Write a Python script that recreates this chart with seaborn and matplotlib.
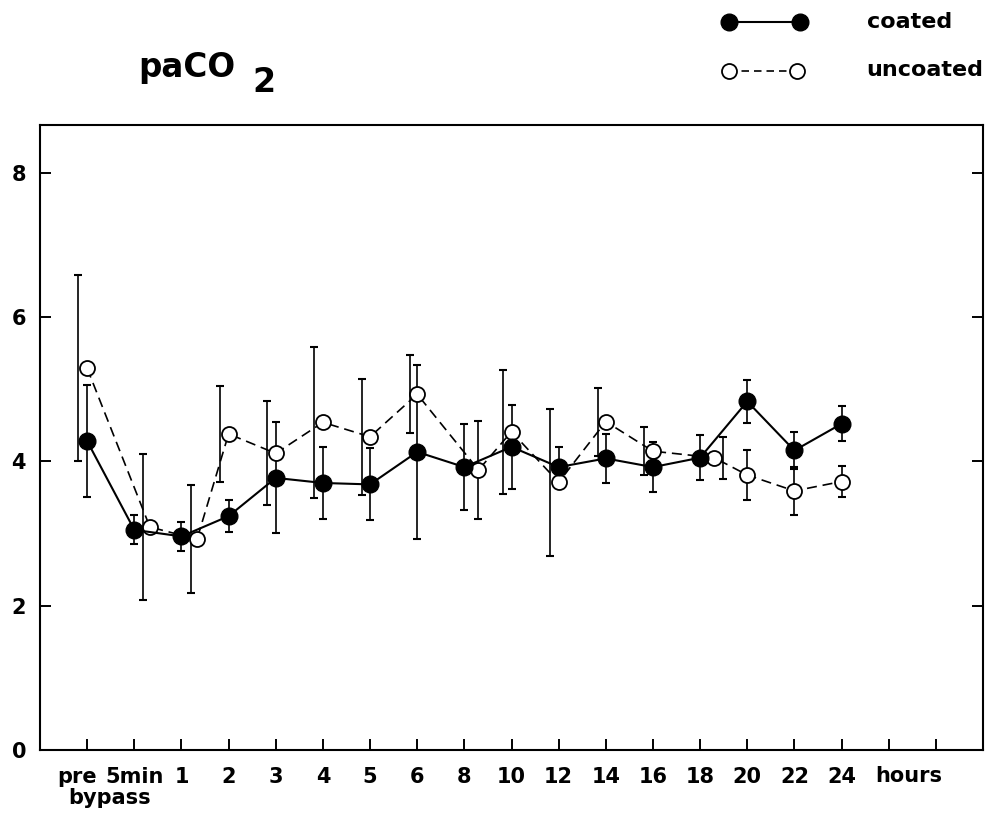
import numpy as np
import pandas as pd
import matplotlib
matplotlib.use("Agg")
import matplotlib.pyplot as plt
import matplotlib.transforms as mtransforms
import seaborn as sns

# ---- data: arterial pCO2 (kPa), mean and SD per sampling time ----
time_labels = ["pre", "5min", "1", "2", "3", "4", "5", "6", "8", "10",
               "12", "14", "16", "18", "20", "22", "24"]
coated_mean = [4.28, 3.05, 2.96, 3.24, 3.77, 3.70, 3.68, 4.13, 3.92, 4.20,
               3.92, 4.04, 3.92, 4.05, 4.83, 4.15, 4.52]
coated_sd = [0.78, 0.20, 0.20, 0.22, 0.77, 0.50, 0.50, 1.20, 0.60, 0.58,
             0.28, 0.34, 0.35, 0.31, 0.30, 0.25, 0.24]
uncoated_mean = [5.29, 3.09, 2.92, 4.38, 4.11, 4.54, 4.34, 4.93, 3.88, 4.41,
                 3.71, 4.55, 4.14, 4.05, 3.81, 3.59, 3.72]
uncoated_sd = [1.29, 1.01, 0.75, 0.67, 0.72, 1.05, 0.80, 0.54, 0.68, 0.86,
               1.02, 0.47, 0.33, 0.29, 0.35, 0.33, 0.22]
y_ticks = [0, 2, 4, 6, 8]

# horizontal nudges (category units) that keep overlapping symbols/bars apart
uncoated_nudge = [0, 0.33, 0.33, 0, 0, 0, 0, 0, 0.30, 0, 0, 0, 0, 0.30, 0, 0, 0]
uncoated_bar_nudge = [-0.20, -0.14, -0.12, -0.18, -0.18, -0.18, -0.17, -0.15, 0,
                      -0.18, -0.18, -0.16, -0.20, 0.18, 0, 0, 0]

pos = np.arange(len(time_labels))
coated = pd.DataFrame({"pos": pos, "value": coated_mean, "sd": coated_sd})
uncoated = pd.DataFrame({"pos": pos + np.array(uncoated_nudge),
                         "value": uncoated_mean, "sd": uncoated_sd})

sns.set_style("white")
plt.rcParams["font.family"] = ["DejaVu Sans"]
plt.rcParams["font.weight"] = "bold"
plt.rcParams["text.color"] = "black"

W, H = 989, 817
fig = plt.figure(figsize=(W / 100, H / 100), dpi=100)
ax = fig.add_axes([40 / W, 67 / H, 943 / W, 625 / H])


def px(x, y):
    """Pixel position (origin top-left) -> figure fraction."""
    return x / W, 1 - y / H


# error bars
ax.errorbar(uncoated["pos"] + np.array(uncoated_bar_nudge), uncoated["value"],
            yerr=uncoated["sd"], fmt="none", ecolor="black", elinewidth=1.2,
            capsize=3, capthick=1.5, zorder=2)
ax.errorbar(coated["pos"], coated["value"], yerr=coated["sd"], fmt="none",
            ecolor="black", elinewidth=1.2, capsize=3, capthick=1.5, zorder=2)

# uncoated: open circles, dashed line
sns.lineplot(data=uncoated, x="pos", y="value", ax=ax, errorbar=None, sort=False,
             color="black", linewidth=1.2, linestyle=(0, (6, 3.5)),
             marker="o", markersize=10.8, markerfacecolor="white",
             markeredgecolor="black", markeredgewidth=1.3, zorder=3)
# coated: filled circles, solid line
sns.lineplot(data=coated, x="pos", y="value", ax=ax, errorbar=None, sort=False,
             color="black", linewidth=1.5, marker="o", markersize=12,
             markerfacecolor="black", markeredgecolor="black",
             markeredgewidth=1.0, zorder=4)

ax.set_xlim(-1, 19)
ax.set_ylim(0, 8.66)
ax.set_xticks(range(19))
ax.set_xticklabels(time_labels + ["", ""])
ax.set_yticks(y_ticks)
ax.set_yticklabels([str(v) for v in y_ticks])
ax.set_xlabel("")
ax.set_ylabel("")
ax.tick_params(axis="both", direction="in", length=8, width=1.4,
               labelsize=15, color="black", labelcolor="black")
ax.tick_params(axis="y", left=True, right=True, pad=10)
ax.tick_params(axis="x", bottom=True, top=False, pad=12.5)
for spine in ax.spines.values():
    spine.set_visible(True)
    spine.set_color("black")
    spine.set_linewidth(1.5)

# the "pre" label sits a little left of its tick
pre_label = ax.get_xticklabels()[0]
pre_label.set_transform(pre_label.get_transform()
                        + mtransforms.ScaledTranslation(-0.10, 0, fig.dpi_scale_trans))

fig.text(*px(109.5, 804), "bypass", ha="center", va="baseline",
         fontsize=15, fontweight="bold", color="black")
fig.text(*px(909, 782), "hours", ha="center", va="baseline",
         fontsize=15, fontweight="bold", color="black")

# title
fig.text(*px(138, 77), "paCO", ha="left", va="baseline",
         fontsize=23.5, fontweight="bold", color="black")
fig.text(*px(252, 92), "2", ha="left", va="baseline",
         fontsize=24, fontweight="bold", color="black")

# key in the top-right corner
key = fig.add_axes([0, 0, 1, 1])
key.set_xlim(0, W)
key.set_ylim(H, 0)
key.axis("off")
key.plot([729, 800], [21.7, 21.7], color="black", linewidth=1.5, marker="o",
         markersize=12, markerfacecolor="black", markeredgecolor="black")
key.plot([729, 797], [71, 71], color="black", linewidth=1.2,
         linestyle=(0, (4.5, 3)), marker="o", markersize=10.8,
         markerfacecolor="white", markeredgecolor="black", markeredgewidth=1.3)
fig.text(*px(866.7, 28.3), "coated", ha="left", va="baseline",
         fontsize=16, fontweight="bold", color="black")
fig.text(*px(866.7, 76), "uncoated", ha="left", va="baseline",
         fontsize=16, fontweight="bold", color="black")

fig.savefig("out.png", dpi=100)
